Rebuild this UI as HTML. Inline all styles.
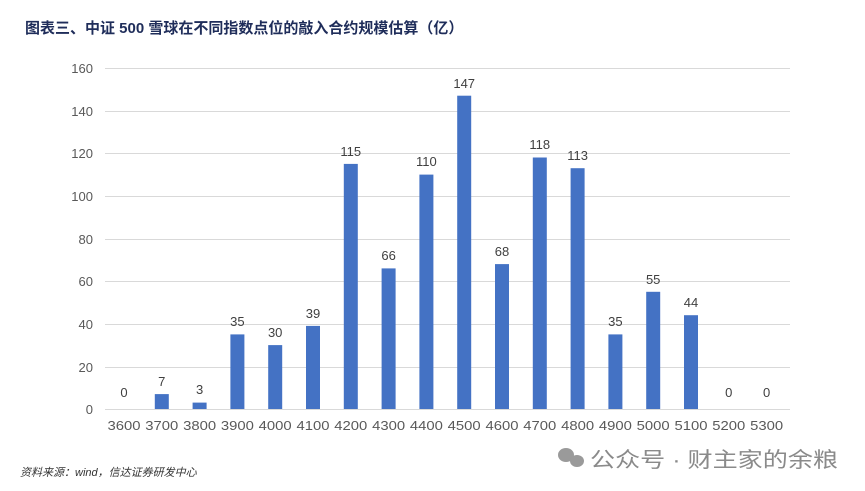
<!DOCTYPE html>
<html><head><meta charset="utf-8"><style>
body{margin:0;background:#fff;width:865px;height:491px;overflow:hidden}
svg{display:block}
</style></head><body>
<svg width="865" height="491" xmlns="http://www.w3.org/2000/svg" font-family="'Liberation Sans','Noto Sans CJK SC',sans-serif">
<text x="25" y="33" font-size="15" font-weight="bold" fill="#1f2d5a">图表三、中证 500 雪球在不同指数点位的敲入合约规模估算（亿）</text>
<g stroke="#d9d9d9" stroke-width="1">
<line x1="105" x2="790" y1="68.5" y2="68.5"/>
<line x1="105" x2="790" y1="111.5" y2="111.5"/>
<line x1="105" x2="790" y1="153.5" y2="153.5"/>
<line x1="105" x2="790" y1="196.5" y2="196.5"/>
<line x1="105" x2="790" y1="239.5" y2="239.5"/>
<line x1="105" x2="790" y1="281.5" y2="281.5"/>
<line x1="105" x2="790" y1="324.5" y2="324.5"/>
<line x1="105" x2="790" y1="367.5" y2="367.5"/>
<line x1="105" x2="790" y1="409.5" y2="409.5"/>
</g>
<g font-size="13" fill="#595959" text-anchor="end">
<text x="93" y="73">160</text><text x="93" y="116">140</text><text x="93" y="158">120</text>
<text x="93" y="201">100</text><text x="93" y="244">80</text><text x="93" y="286">60</text>
<text x="93" y="329">40</text><text x="93" y="372">20</text><text x="93" y="414">0</text>
</g>
<g fill="#4472c4">
<rect x="154.8" y="394.1" width="14" height="14.9"/>
<rect x="192.6" y="402.6" width="14" height="6.4"/>
<rect x="230.4" y="334.4" width="14" height="74.6"/>
<rect x="268.2" y="345.1" width="14" height="63.9"/>
<rect x="306" y="325.9" width="14" height="83.1"/>
<rect x="343.8" y="163.9" width="14" height="245.1"/>
<rect x="381.6" y="268.4" width="14" height="140.6"/>
<rect x="419.4" y="174.6" width="14" height="234.4"/>
<rect x="457.2" y="95.7" width="14" height="313.3"/>
<rect x="495" y="264.1" width="14" height="144.9"/>
<rect x="532.8" y="157.5" width="14" height="251.5"/>
<rect x="570.6" y="168.2" width="14" height="240.8"/>
<rect x="608.4" y="334.4" width="14" height="74.6"/>
<rect x="646.2" y="291.8" width="14" height="117.2"/>
<rect x="684" y="315.2" width="14" height="93.8"/>
</g>
<g font-size="13" fill="#404040" text-anchor="middle">
<text x="124" y="397">0</text>
<text x="161.8" y="386">7</text>
<text x="199.6" y="394">3</text>
<text x="237.4" y="326">35</text>
<text x="275.2" y="337">30</text>
<text x="313" y="318">39</text>
<text x="350.8" y="156">115</text>
<text x="388.6" y="260">66</text>
<text x="426.4" y="166">110</text>
<text x="464.2" y="88">147</text>
<text x="502" y="256">68</text>
<text x="539.8" y="149">118</text>
<text x="577.6" y="160">113</text>
<text x="615.4" y="326">35</text>
<text x="653.2" y="284">55</text>
<text x="691" y="307">44</text>
<text x="728.8" y="397">0</text>
<text x="766.6" y="397">0</text>
</g>
<g font-size="12.5" fill="#595959" text-anchor="middle">
<text x="124" y="430" textLength="33" lengthAdjust="spacingAndGlyphs">3600</text>
<text x="161.8" y="430" textLength="33" lengthAdjust="spacingAndGlyphs">3700</text>
<text x="199.6" y="430" textLength="33" lengthAdjust="spacingAndGlyphs">3800</text>
<text x="237.4" y="430" textLength="33" lengthAdjust="spacingAndGlyphs">3900</text>
<text x="275.2" y="430" textLength="33" lengthAdjust="spacingAndGlyphs">4000</text>
<text x="313" y="430" textLength="33" lengthAdjust="spacingAndGlyphs">4100</text>
<text x="350.8" y="430" textLength="33" lengthAdjust="spacingAndGlyphs">4200</text>
<text x="388.6" y="430" textLength="33" lengthAdjust="spacingAndGlyphs">4300</text>
<text x="426.4" y="430" textLength="33" lengthAdjust="spacingAndGlyphs">4400</text>
<text x="464.2" y="430" textLength="33" lengthAdjust="spacingAndGlyphs">4500</text>
<text x="502" y="430" textLength="33" lengthAdjust="spacingAndGlyphs">4600</text>
<text x="539.8" y="430" textLength="33" lengthAdjust="spacingAndGlyphs">4700</text>
<text x="577.6" y="430" textLength="33" lengthAdjust="spacingAndGlyphs">4800</text>
<text x="615.4" y="430" textLength="33" lengthAdjust="spacingAndGlyphs">4900</text>
<text x="653.2" y="430" textLength="33" lengthAdjust="spacingAndGlyphs">5000</text>
<text x="691" y="430" textLength="33" lengthAdjust="spacingAndGlyphs">5100</text>
<text x="728.8" y="430" textLength="33" lengthAdjust="spacingAndGlyphs">5200</text>
<text x="766.6" y="430" textLength="33" lengthAdjust="spacingAndGlyphs">5300</text>
</g>
<g fill="#9a9a9a"><ellipse cx="566" cy="455" rx="8" ry="7"/><ellipse cx="577" cy="461" rx="7" ry="6"/></g>
<text x="590" y="467" font-size="21" fill="#8a8a8a" textLength="248" lengthAdjust="spacingAndGlyphs">公众号 · 财主家的余粮</text>
<text x="20" y="476" font-size="11" font-style="italic" fill="#333">资料来源：wind，信达证券研发中心</text>
</svg>
</body></html>
